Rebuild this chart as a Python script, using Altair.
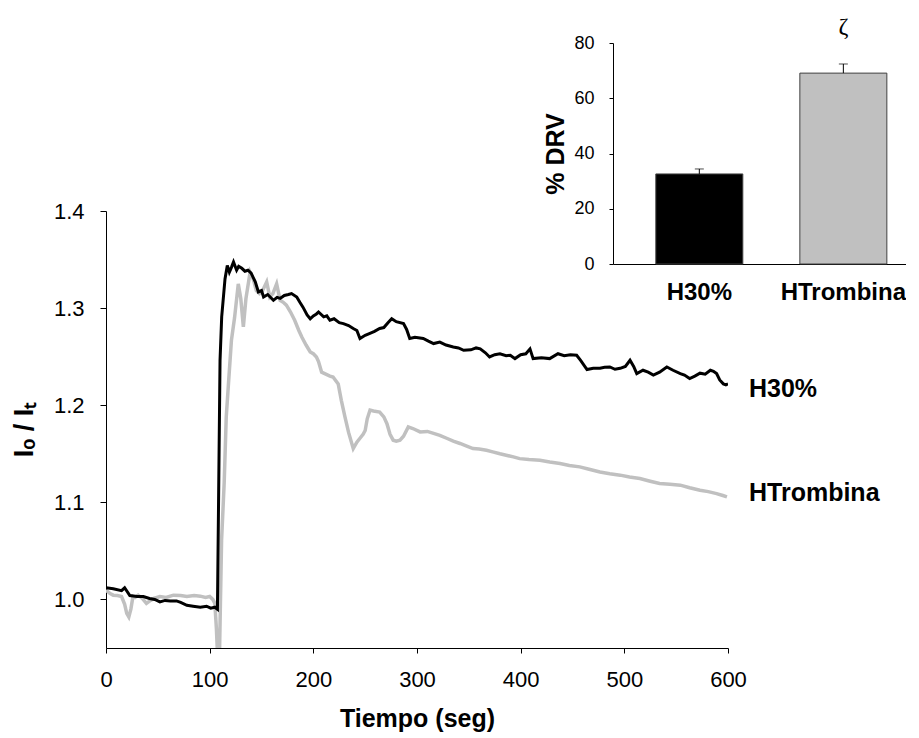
import altair as alt
import pandas as pd

FONT = "Liberation Sans"

# ---------------- main time series ----------------
black_t = [0, 7, 15, 18, 23, 30, 36, 42, 47, 52, 57, 62, 68, 72, 78, 84, 91, 97, 101, 105, 107.5,
           110, 111.6, 114.8, 117, 119, 121, 123, 126, 128, 131, 134, 137, 140, 144, 147, 150, 152,
           156, 161.5, 165, 168, 172, 176, 179, 184, 187, 190, 194, 197, 200, 203, 205, 210, 213,
           216, 220, 225, 229, 234, 238.5, 242, 245, 250, 254.6, 259, 264, 268, 272, 275.6, 280,
           287, 290, 293, 298, 306, 311, 316, 322, 328, 335, 340, 345, 352, 357, 361, 366, 370,
           375, 380, 386, 390, 394.5, 400, 405, 409, 412, 420, 428, 436, 442, 448, 454, 458, 464,
           470, 476.5, 481, 486, 491, 496, 501, 505.5, 509, 512, 518, 523, 528, 534, 541, 547,
           554, 558, 563, 568, 573, 578, 583, 586, 589, 592, 595.5, 598, 600]
black_v = [1.012, 1.011, 1.009, 1.012, 1.004, 1.003, 1.003, 1.001, 1.000, 0.9975, 0.999, 0.9985,
           0.9985, 0.997, 0.994, 0.993, 0.992, 0.993, 0.991, 0.992, 0.990,
           1.246, 1.291, 1.330, 1.344, 1.337, 1.342, 1.3475, 1.339, 1.343, 1.341, 1.338, 1.339,
           1.336, 1.327, 1.3166, 1.318, 1.3115, 1.314, 1.308, 1.311, 1.310, 1.313, 1.314, 1.315,
           1.3115, 1.306, 1.301, 1.293, 1.289, 1.292, 1.294, 1.296, 1.291, 1.292, 1.2875, 1.289,
           1.285, 1.284, 1.282, 1.279, 1.277, 1.2687, 1.272, 1.274, 1.276, 1.279, 1.280, 1.285,
           1.289, 1.286, 1.284, 1.278, 1.2687, 1.270, 1.2687, 1.266, 1.2635, 1.265, 1.262, 1.260,
           1.259, 1.2566, 1.257, 1.259, 1.258, 1.254, 1.2497, 1.252, 1.253, 1.251, 1.2515, 1.248,
           1.252, 1.253, 1.258, 1.248, 1.249, 1.248, 1.253, 1.251, 1.252, 1.2515, 1.246, 1.2367,
           1.238, 1.238, 1.239, 1.2394, 1.237, 1.238, 1.240, 1.2463, 1.240, 1.2326, 1.236, 1.234,
           1.231, 1.234, 1.2394, 1.236, 1.2326, 1.231, 1.2275, 1.230, 1.233, 1.232, 1.236, 1.235,
           1.2326, 1.226, 1.222, 1.221, 1.222]

grey_t = [0, 4, 7, 11, 15, 18, 20, 22, 24, 26, 28, 31, 35, 39, 43, 46, 52, 58, 65, 72, 78, 85,
          91, 96, 100, 103, 105, 106.5, 107.5, 109.5, 111.5, 114, 116, 118, 121, 124, 127.6, 130,
          132.5, 135, 139, 142, 145, 148, 151, 155, 158, 161, 164.6, 168, 171, 174, 178, 182, 186,
          189, 193, 197, 200, 203, 205, 208, 212, 216, 219, 224, 227, 230.5, 234, 238.5, 242, 245,
          248, 250, 252, 254.7, 258, 264, 268, 271, 274, 277, 280, 283.6, 287, 291.6, 296, 303,
          310, 316, 322, 328.6, 335, 341.5, 348, 354, 360, 367, 373, 380, 386, 393, 399, 408,
          418.6, 428, 438, 447, 457, 466, 476.5, 486, 496, 505, 515, 524, 534, 544, 554, 563,
          573, 581, 589, 595, 599]
grey_v = [1.0096, 1.006, 1.0044, 1.004, 1.003, 0.995, 0.9856, 0.982, 0.990, 1.003, 1.002, 1.0044,
          1.001, 0.9959, 0.999, 1.001, 1.003, 1.002, 1.0044, 1.004, 1.003, 1.004, 1.0034, 1.002,
          1.003, 1.000, 0.996, 0.970, 0.945, 0.945, 1.061, 1.120, 1.188, 1.220, 1.267, 1.290,
          1.325, 1.310, 1.2806, 1.310, 1.337, 1.330, 1.318, 1.315, 1.318, 1.327, 1.3115, 1.315,
          1.325, 1.308, 1.306, 1.303, 1.296, 1.2875, 1.277, 1.270, 1.262, 1.2549, 1.253, 1.2497,
          1.245, 1.234, 1.232, 1.230, 1.229, 1.222, 1.205, 1.188, 1.172, 1.1554, 1.162, 1.166,
          1.170, 1.174, 1.186, 1.195, 1.194, 1.193, 1.188, 1.181, 1.170, 1.164, 1.163, 1.164,
          1.168, 1.1777, 1.176, 1.1725, 1.173, 1.171, 1.169, 1.166, 1.163, 1.1606, 1.158, 1.1554,
          1.155, 1.1537, 1.152, 1.150, 1.1485, 1.1468, 1.145, 1.144, 1.1434, 1.1415, 1.140,
          1.138, 1.1365, 1.134, 1.1313, 1.1295, 1.128, 1.126, 1.1245, 1.122, 1.1194, 1.1185,
          1.1177, 1.115, 1.1125, 1.111, 1.109, 1.107, 1.1056]

series_names = ["H30%", "HTrombina"]
x_ticks = [0, 100, 200, 300, 400, 500, 600]
y_ticks = [1.0, 1.1, 1.2, 1.3, 1.4]

# ---------------- inset bars ----------------
groups = ["H30%", "HTrombina"]
drv_mean = [32.6, 69.1]
drv_err = [1.8, 3.3]
inset_ticks = [0, 20, 40, 60, 80]
signif_mark = "ζ"

df_b = pd.DataFrame({"t": black_t, "v": black_v})
df_g = pd.DataFrame({"t": grey_t, "v": grey_v})
end_b = pd.DataFrame({"t": [black_t[-1]], "v": [black_v[-1]], "label": [series_names[0]]})
end_g = pd.DataFrame({"t": [grey_t[-1]], "v": [grey_v[-1]], "label": [series_names[1]]})
ins = pd.DataFrame({"g": groups, "m": drv_mean,
                    "hi": [m + e for m, e in zip(drv_mean, drv_err)]})

W, H = 622, 437

xs = alt.Scale(domain=[0, 600], nice=False)
ys = alt.Scale(domain=[0.95, 1.4], nice=False, zero=False)

x_axis = alt.Axis(values=x_ticks, title="Tiempo (seg)", grid=False, tickSize=5,
                  labelFontSize=22, labelPadding=16, titleFontSize=25, titleFontWeight="bold",
                  titlePadding=16, domainColor="black", tickColor="black", labelColor="black",
                  titleColor="black", labelFont=FONT, titleFont=FONT, labelFlush=False)
y_axis = alt.Axis(values=y_ticks, format=".1f", title="Iₒ / Iₜ", grid=False, tickSize=6,
                  labelFontSize=22, labelPadding=16, titleFontSize=27, titleFontWeight="bold",
                  titlePadding=15, domainColor="black", tickColor="black", labelColor="black",
                  titleColor="black", labelFont=FONT, titleFont=FONT)

X = alt.X("t:Q", scale=xs, axis=x_axis)
Y = alt.Y("v:Q", scale=ys, axis=y_axis)

grey_line = alt.Chart(df_g).mark_line(color="#c0c0c0", strokeWidth=3.5, clip=True).encode(x=X, y=Y)
black_line = alt.Chart(df_b).mark_line(color="black", strokeWidth=3, clip=True).encode(x=X, y=Y)
lab_b = alt.Chart(end_b).mark_text(align="left", baseline="middle", dx=21, dy=5, font=FONT,
                                   fontSize=25, fontWeight="bold", color="black").encode(x=X, y=Y, text="label:N")
lab_g = alt.Chart(end_g).mark_text(align="left", baseline="middle", dx=22, dy=-4, font=FONT,
                                   fontSize=25, fontWeight="bold", color="black").encode(x=X, y=Y, text="label:N")
main = alt.layer(grey_line, black_line, lab_b, lab_g)

# inset scales positioned in pixels relative to the main plot area
ix = alt.Scale(domain=groups, range=[507, 806], paddingInner=0.396, paddingOuter=0.236, align=0.63)
iy = alt.Scale(domain=[0, 80], range=[53, -168], nice=False)

ix_axis = alt.Axis(orient="bottom", offset=-384, title=None, ticks=False, tickSize=0, grid=False,
                   labelFontSize=24, labelFontWeight="bold", labelPadding=16, labelAngle=0,
                   domainColor="black", labelColor="black", labelFont=FONT)
iy_axis = alt.Axis(orient="left", offset=-507, values=inset_ticks, title="% DRV", grid=False,
                   tickSize=4, labelFontSize=18, labelPadding=15, titleFontSize=25,
                   titleFontWeight="bold", titlePadding=5, domainColor="black", tickColor="black",
                   labelColor="black", titleColor="black", labelFont=FONT, titleFont=FONT)

IX = alt.X("g:N", scale=ix, axis=ix_axis, sort=groups)
bars = alt.Chart(ins).mark_bar(stroke="#404040", strokeWidth=1).encode(
    x=IX, y=alt.Y("m:Q", scale=iy, axis=iy_axis),
    color=alt.Color("g:N", scale=alt.Scale(domain=groups, range=["black", "#c0c0c0"]), legend=None))
err = alt.Chart(ins).mark_rule(color="black", strokeWidth=1).encode(
    x=IX, y=alt.Y("m:Q", scale=iy, axis=iy_axis), y2="hi:Q")
cap = alt.Chart(ins).mark_tick(color="black", thickness=1, size=9).encode(
    x=IX, y=alt.Y("hi:Q", scale=iy, axis=iy_axis))
zeta = alt.Chart(ins).transform_filter(alt.datum.g == groups[1]).mark_text(
    text=signif_mark, font="Liberation Serif", fontSize=24, dy=-37, color="black").encode(
    x=IX, y=alt.Y("hi:Q", scale=iy, axis=iy_axis))
inset = alt.layer(bars, err, cap, zeta)

chart = alt.layer(main, inset).resolve_scale(x="independent", y="independent", color="independent").properties(
    width=W, height=H, padding={"left": 2, "top": 6, "right": 0, "bottom": 5}
).configure(font=FONT).configure_view(stroke=None)

chart.save("out.html", embed_options={"renderer": "svg", "actions": False})
